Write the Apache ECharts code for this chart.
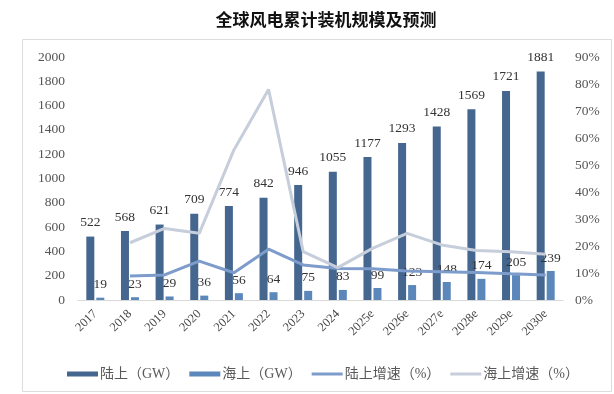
<!DOCTYPE html>
<html>
<head>
<meta charset="utf-8">
<script src="https://cdn.jsdelivr.net/npm/echarts@6/dist/echarts.min.js"></script>
<style>html,body{margin:0;padding:0;background:#fff}#c{width:614px;height:394px}</style>
</head>
<body>
<div id="c"></div>
<script>
var categories = ['2017','2018','2019','2020','2021','2022','2023','2024','2025e','2026e','2027e','2028e','2029e','2030e'];
var onshore = [522,568,621,709,774,842,946,1055,1177,1293,1428,1569,1721,1881];
var offshore = [19,23,29,36,56,64,75,83,99,123,148,174,205,239];
var onshoreGrowth = [null,8.9,9.3,14.4,10.1,18.8,13.0,11.7,11.6,10.7,10.5,10.2,9.7,9.3];
var offshoreGrowth = [null,21.2,26.5,24.7,55.6,78.0,17.9,12.0,19.1,24.7,20.4,18.3,17.9,16.9];
var leftTicks = [0,200,400,600,800,1000,1200,1400,1600,1800,2000];
var rightTicks = [0,10,20,30,40,50,60,70,80,90];

var serif = '"Liberation Serif","DejaVu Serif",serif';
var cjk = '"Liberation Serif","Noto Sans CJK SC",serif';
var lineIcon = 'path://M0,0L31,0L31,3L0,3Z';
var chart = echarts.init(document.getElementById('c'));
chart.setOption({
  animation: false,
  backgroundColor: '#fff',
  graphic: [{
    type: 'rect', shape: {x: 22.5, y: 39.5, width: 589, height: 352},
    style: {fill: 'none', stroke: '#dcdcdc', lineWidth: 1}, z: -1
  }],
  title: {
    text: '全球风电累计装机规模及预测',
    left: 321, top: 6, textAlign: 'center',
    textStyle: {fontFamily: '"Noto Sans CJK SC",sans-serif', fontSize: 17, fontWeight: 'bold', color: '#111'}
  },
  legend: {
    left: 62, top: 362,
    itemWidth: 31, itemHeight: 5, itemGap: 10,
    textStyle: {fontFamily: cjk, fontSize: 14, color: '#595959', padding: [0, 0, 0, -3]},
    data: [
      {name: '陆上（GW）', icon: 'rect'},
      {name: '海上（GW）', icon: 'rect'},
      {name: '陆上增速（%）', icon: lineIcon},
      {name: '海上增速（%）', icon: lineIcon}
    ]
  },
  grid: {left: 78, right: 51, top: 57, bottom: 94},
  xAxis: {
    type: 'category', data: categories,
    axisLine: {lineStyle: {color: '#d9d9d9', width: 1}},
    axisTick: {show: false},
    axisLabel: {rotate: 45, fontFamily: serif, fontSize: 12.5, color: '#444', margin: 12, interval: 0}
  },
  yAxis: [{
    type: 'value', min: 0, max: 2000, interval: 200,
    axisLine: {show: false}, axisTick: {show: false}, splitLine: {show: false},
    axisLabel: {fontFamily: serif, fontSize: 13.5, color: '#555', margin: 13, formatter: function (v) { return String(v); }}
  }, {
    type: 'value', min: 0, max: 90, interval: 10,
    axisLine: {show: false}, axisTick: {show: false}, splitLine: {show: false},
    axisLabel: {fontFamily: serif, fontSize: 13.5, color: '#555', margin: 12, formatter: '{value}%'}
  }],
  series: [{
    name: '陆上（GW）', type: 'bar', data: onshore, barWidth: 8, barGap: '25%',
    itemStyle: {color: '#44668f'},
    label: {show: true, position: 'top', distance: 7, fontFamily: serif, fontSize: 13.5, color: '#333'}
  }, {
    name: '海上（GW）', type: 'bar', data: offshore, barWidth: 8,
    itemStyle: {color: '#5b87ba'},
    label: {show: true, position: 'top', distance: 6, fontFamily: serif, fontSize: 13.5, color: '#333'}
  }, {
    name: '陆上增速（%）', type: 'line', yAxisIndex: 1, data: onshoreGrowth,
    symbol: 'none', lineStyle: {color: '#7d9ccb', width: 3}, itemStyle: {color: '#7d9ccb'}, z: 3
  }, {
    name: '海上增速（%）', type: 'line', yAxisIndex: 1, data: offshoreGrowth,
    symbol: 'none', lineStyle: {color: '#c6cddb', width: 3}, itemStyle: {color: '#c6cddb'}, z: 3
  }]
});
</script>
</body>
</html>
